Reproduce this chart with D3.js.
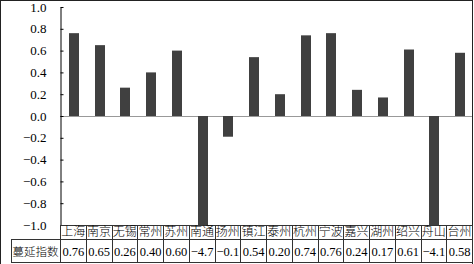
<!DOCTYPE html>
<html>
<head>
<meta charset="utf-8">
<script src="https://cdn.jsdelivr.net/npm/d3@7"></script>
<style>
  body { margin: 0; background: #fff; }
  svg { display: block; }
  text { font-family: "Liberation Serif", "Noto Sans CJK SC", serif; fill: #000; }
</style>
</head>
<body>
<div id="chart"></div>
<script>
var cities = ['上海','南京','无锡','常州','苏州','南通','扬州','镇江','泰州','杭州','宁波','嘉兴','湖州','绍兴','舟山','台州']
var values = [0.76, 0.65, 0.26, 0.40, 0.60, -4.7, -0.19, 0.54, 0.20, 0.74, 0.76, 0.24, 0.17, 0.61, -4.1, 0.58]
var valueLabels = ['0.76','0.65','0.26','0.40','0.60','\u22124.7','\u22120.1','0.54','0.20','0.74','0.76','0.24','0.17','0.61','\u22124.1','0.58']
var rowTitle = '蔓延指数'
var yTicks = [1.0, 0.8, 0.6, 0.4, 0.2, 0.0, -0.2, -0.4, -0.6, -0.8, -1.0]

var width = 474
var height = 264
var plotLeft = 60, plotRight = 472, plotTop = 7, plotBottom = 225
var row1 = 239, row2 = 262

var svg = d3.select('#chart').append('svg')
  .attr('width', width)
  .attr('height', height)

// outer frame
svg.append('rect')
  .attr('x', 0.5).attr('y', 0.5)
  .attr('width', 472).attr('height', 270)
  .attr('fill', 'none')
  .attr('stroke', '#222')

var x = d3.scaleBand()
  .domain(cities)
  .range([plotLeft, plotRight])
  .paddingInner(0)

var y = d3.scaleLinear()
  .domain([-1, 1])
  .range([plotBottom, plotTop])
  .clamp(true)

// zero line
svg.append('line')
  .attr('x1', plotLeft).attr('x2', plotRight)
  .attr('y1', Math.round(y(0)) + 0.5).attr('y2', Math.round(y(0)) + 0.5)
  .attr('stroke', '#999')

// bars
var bw = 10
svg.selectAll('rect.bar')
  .data(values)
  .enter()
  .append('rect')
  .attr('class', 'bar')
  .attr('x', function(d, i) { return Math.round(x(cities[i]) + x.bandwidth() / 2 - bw / 2) + 1 })
  .attr('width', bw)
  .attr('y', function(d) { return Math.min(y(d), y(0)) })
  .attr('height', function(d) { return Math.abs(y(d) - y(0)) })
  .attr('fill', '#404040')

// y axis
var yAxis = d3.axisLeft(y)
  .tickValues(yTicks)
  .tickSizeInner(-3)
  .tickSizeOuter(0)
  .tickPadding(14)
  .tickFormat(function(d) { return d3.format('.1f')(d).replace('-', '\u2212') })

var ga = svg.append('g')
  .attr('transform', 'translate(' + (plotLeft + 0.5) + ',0)')
  .call(yAxis)
  .attr('font-family', '"Liberation Serif", serif')
  .attr('font-size', 13)
ga.select('.domain').attr('stroke', '#000')
ga.selectAll('.tick line').attr('stroke', '#000')
ga.selectAll('.tick text')
  .style('font-family', '"Liberation Serif", serif')
  .attr('fill', '#000')

// table grid
var grid = svg.append('g').attr('stroke', '#333').attr('fill', 'none')
grid.append('line').attr('x1', plotLeft).attr('x2', plotRight).attr('y1', plotBottom + 0.5).attr('y2', plotBottom + 0.5)
grid.append('line').attr('x1', 11).attr('x2', plotRight).attr('y1', row1 + 0.5).attr('y2', row1 + 0.5)
grid.append('line').attr('x1', 11).attr('x2', plotRight).attr('y1', row2 + 0.5).attr('y2', row2 + 0.5)
grid.append('line').attr('x1', 11.5).attr('x2', 11.5).attr('y1', row1).attr('y2', row2)
grid.append('line').attr('x1', plotLeft + 0.5).attr('x2', plotLeft + 0.5).attr('y1', plotBottom).attr('y2', row2)
grid.selectAll('line.col')
  .data(cities)
  .enter()
  .append('line')
  .attr('class', 'col')
  .attr('x1', function(d) { return Math.round(x(d) + x.bandwidth()) + 0.5 })
  .attr('x2', function(d) { return Math.round(x(d) + x.bandwidth()) + 0.5 })
  .attr('y1', plotBottom)
  .attr('y2', row2)

// category labels
svg.selectAll('text.cat')
  .data(cities)
  .enter()
  .append('text')
  .attr('class', 'cat')
  .attr('x', function(d) { return x(d) + x.bandwidth() / 2 + 0.5 })
  .attr('y', row1 - 3)
  .attr('text-anchor', 'middle')
  .style('font-size', '12px')
  .style('font-family', '"Noto Sans CJK SC", serif')
  .style('font-weight', '300')
  .text(function(d) { return d })

// value labels
svg.selectAll('text.val')
  .data(valueLabels)
  .enter()
  .append('text')
  .attr('class', 'val')
  .attr('x', function(d, i) { return x(cities[i]) + x.bandwidth() / 2 + 0.5 })
  .attr('y', row2 - 6)
  .attr('text-anchor', 'middle')
  .style('font-size', '12.5px')
  .text(function(d) { return d })

svg.append('text')
  .attr('x', (11 + plotLeft) / 2)
  .attr('y', row2 - 6)
  .attr('text-anchor', 'middle')
  .style('font-size', '11.5px')
  .style('font-family', '"Noto Sans CJK SC", serif')
  .style('font-weight', '300')
  .text(rowTitle)
</script>
</body>
</html>
